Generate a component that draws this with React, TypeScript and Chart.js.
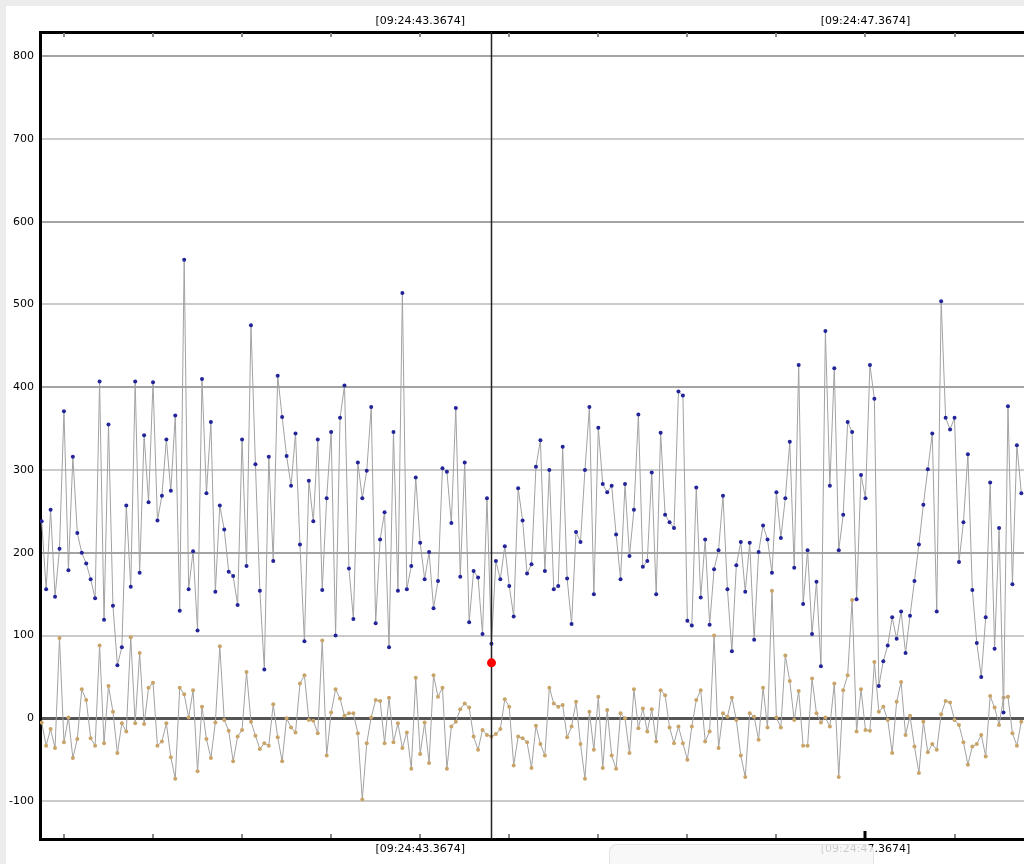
import React, { useEffect, useRef } from "react";
import { Chart, registerables } from "chart.js";

Chart.register(...registerables);

// Blue series (sample index 0..220)
const blueValues = [
  238, 156, 252, 147, 205, 371, 179, 316, 224, 200,
  187, 168, 145, 407, 119, 355, 136, 64, 86, 257,
  159, 407, 176, 342, 261, 406, 239, 269, 337, 275,
  366, 130, 554, 156, 202, 106, 410, 272, 358, 153,
  257, 228, 177, 172, 137, 337, 184, 475, 307, 154,
  59, 316, 190, 414, 364, 317, 281, 344, 210, 93,
  287, 238, 337, 155, 266, 346, 100, 363, 402, 181,
  120, 309, 266, 299, 376, 115, 216, 249, 86, 346,
  154, 514, 156, 184, 291, 212, 168, 201, 133, 166,
  302, 298, 236, 375, 171, 309, 116, 178, 170, 102,
  266, 90, 190, 168, 208, 160, 123, 278, 239, 175,
  186, 304, 336, 178, 300, 156, 160, 328, 169, 114,
  225, 213, 300, 376, 150, 351, 283, 273, 281, 222,
  168, 283, 196, 252, 367, 183, 190, 297, 150, 345,
  246, 237, 230, 395, 390, 118, 112, 279, 146, 216,
  113, 180, 203, 269, 156, 81, 185, 213, 153, 212,
  95, 201, 233, 216, 176, 273, 218, 266, 334, 182,
  427, 138, 203, 102, 165, 63, 468, 281, 423, 203,
  246, 358, 346, 144, 294, 266, 427, 386, 39, 69,
  88, 122, 96, 129, 79, 124, 166, 210, 258, 301,
  344, 129, 504, 363, 349, 363, 189, 237, 319, 155,
  91, 50, 122, 285, 84, 230, 7, 377, 162, 330,
  272,
];

// Tan series (sample index 0..220)
const tanValues = [
  -5, -33, -13, -36, 97, -29, 1, -48, -25, 35,
  22, -24, -33, 88, -30, 39, 8, -42, -6, -16,
  98, -6, 79, -7, 37, 43, -33, -28, -6, -47,
  -73, 37, 29, 1, 34, -64, 14, -25, -48, -5,
  87, -2, -15, -52, -22, -14, 56, -4, -21, -37,
  -30, -33, 17, -23, -52, 0, -11, -17, 42, 52,
  -2, -3, -18, 94, -45, 7, 35, 24, 3, 6,
  6, -18, -98, -30, 1, 22, 21, -30, 25, -29,
  -6, -36, -17, -61, 49, -43, -5, -54, 52, 26,
  37, -61, -10, -4, 11, 18, 13, -22, -38, -14,
  -20, -22, -19, -13, 23, 14, -57, -22, -24, -29,
  -60, -9, -31, -45, 37, 18, 14, 16, -23, -10,
  20, -31, -73, 8, -38, 26, -60, 10, -45, -61,
  6, 0, -42, 35, -12, 12, -16, 11, -28, 34,
  28, -11, -30, -10, -30, -50, -10, 22, 34, -28,
  -16, 100, -36, 6, 2, 25, -2, -45, -71, 6,
  2, -26, 37, -11, 154, 1, -11, 76, 45, -2,
  33, -33, -33, 48, 6, -5, 1, -10, 42, -71,
  34, 52, 143, -16, 35, -14, -15, 68, 8, 14,
  -2, -42, 20, 44, -20, 3, -34, -66, -4, -41,
  -31, -38, 5, 21, 19, -2, -8, -29, -56, -34,
  -31, -20, -46, 27, 13, -8, 25, 26, -18, -33,
  -4,
];

const yTickValues = [800, 700, 600, 500, 400, 300, 200, 100, 0, -100];
const xTickPositions = [5, 25, 45, 65, 85, 105, 125, 145, 165, 185, 205];
const xLabelPositions = [85, 185];
const xLabelTexts = ["[09:24:43.3674]", "[09:24:47.3674]"];
const majorTickPosition = 185;
const cursorIndex = 101;
const cursorValue = 67;

const X_MIN = -0.38;
const X_MAX = 220.6;
const Y_MIN = -145.8;
const Y_MAX = 829.2;

const FONT = { family: "'DejaVu Sans', Verdana, sans-serif", size: 11 };

function xLabel(v: number): string {
  const k = xLabelPositions.indexOf(Math.round(v));
  return k >= 0 ? xLabelTexts[k] : "";
}

const overlayPlugin = {
  id: "overlayMarks",
  beforeDatasetsDraw(chart: any) {
    const { ctx, chartArea, scales } = chart;
    const xs = scales.x;
    ctx.save();
    ctx.strokeStyle = "#8a8a8a";
    ctx.lineWidth = 2;
    for (const t of xTickPositions) {
      const px = Math.round(xs.getPixelForValue(t));
      ctx.beginPath();
      ctx.moveTo(px, chartArea.top + 1);
      ctx.lineTo(px, chartArea.top + 5);
      ctx.stroke();
      ctx.beginPath();
      ctx.moveTo(px, chartArea.bottom - 5);
      ctx.lineTo(px, chartArea.bottom - 1);
      ctx.stroke();
    }
    const mp = Math.round(xs.getPixelForValue(majorTickPosition));
    ctx.strokeStyle = "#000";
    ctx.lineWidth = 3;
    ctx.beginPath();
    ctx.moveTo(mp, chartArea.bottom - 8);
    ctx.lineTo(mp, chartArea.bottom);
    ctx.stroke();
    ctx.restore();
  },
  afterDatasetsDraw(chart: any) {
    const { ctx, chartArea, scales } = chart;
    const xs = scales.x;
    const cx = Math.round(xs.getPixelForValue(cursorIndex)) + 0.5;
    ctx.save();
    ctx.strokeStyle = "#222";
    ctx.lineWidth = 1.5;
    ctx.beginPath();
    ctx.moveTo(cx, chartArea.top);
    ctx.lineTo(cx, chartArea.bottom);
    ctx.stroke();
    const cy = scales.y.getPixelForValue(cursorValue);
    ctx.fillStyle = "#ff0000";
    ctx.beginPath();
    ctx.arc(cx, cy, 4.5, 0, Math.PI * 2);
    ctx.fill();
    ctx.restore();
  },
};

export default function App() {
  const canvasRef = useRef<HTMLCanvasElement | null>(null);

  useEffect(() => {
    if (!canvasRef.current) return;
    const blueData = blueValues.map((v, i) => ({ x: i, y: v }));
    const tanData = tanValues.map((v, i) => ({ x: i, y: v }));

    const xAxisCommon = (pos: "top" | "bottom", h: number) => ({
      type: "linear" as const,
      position: pos,
      min: X_MIN,
      max: X_MAX,
      afterBuildTicks: (axis: any) => {
        axis.ticks = xTickPositions.map((v) => ({ value: v }));
      },
      afterFit: (axis: any) => {
        axis.height = h;
      },
      grid: { display: false, drawTicks: false },
      border: { display: true, color: "#000", width: 3 },
      ticks: {
        autoSkip: false,
        maxRotation: 0,
        minRotation: 0,
        padding: 4,
        color: "#000",
        font: FONT,
        callback: (v: any) => xLabel(Number(v)),
      },
    });

    const chart = new Chart(canvasRef.current, {
      type: "line",
      data: {
        datasets: [
          {
            label: "blue",
            data: blueData,
            borderColor: "#a2a2a2",
            borderWidth: 1,
            pointRadius: 2,
            pointBorderWidth: 0,
            pointBackgroundColor: "#23239a",
            tension: 0,
          },
          {
            label: "tan",
            data: tanData,
            borderColor: "#a2a2a2",
            borderWidth: 1,
            pointRadius: 2,
            pointBorderWidth: 0,
            pointBackgroundColor: "#c9a468",
            tension: 0,
          },
        ],
      },
      options: {
        animation: false,
        responsive: false,
        devicePixelRatio: 1,
        layout: { padding: 0, autoPadding: false },
        plugins: {
          legend: { display: false },
          tooltip: { enabled: false },
          title: { display: false },
        },
        scales: {
          x: xAxisCommon("bottom", 25),
          xTop: xAxisCommon("top", 32),
          y: {
            type: "linear",
            position: "left",
            min: Y_MIN,
            max: Y_MAX,
            afterBuildTicks: (axis: any) => {
              axis.ticks = yTickValues.map((v) => ({ value: v }));
            },
            afterFit: (axis: any) => {
              axis.width = 40;
            },
            grid: {
              drawTicks: false,
              color: (c: any) => {
                const v = c.tick ? c.tick.value : 1;
                if (v === 0) return "#555555";
                return Math.abs(v) % 200 === 0 ? "#a3a3a3" : "#cbcbcb";
              },
              lineWidth: (c: any) => {
                const v = c.tick ? c.tick.value : 1;
                return v === 0 ? 3 : 2;
              },
            },
            border: { display: true, color: "#000", width: 3 },
            ticks: {
              padding: 6,
              color: "#000",
              font: FONT,
              callback: (v: any) => String(v),
            },
          },
        },
      } as any,
      plugins: [overlayPlugin],
    });
    return () => chart.destroy();
  }, []);

  return (
    <div
      style={{
        position: "fixed",
        left: 0,
        top: 0,
        width: 1024,
        height: 864,
        background: "#ececec",
        overflow: "hidden",
      }}
    >
      <div
        style={{
          position: "absolute",
          left: 6,
          top: 6,
          width: 1018,
          height: 858,
          background: "#ffffff",
        }}
      />
      <canvas
        ref={canvasRef}
        width={1024}
        height={864}
        style={{ position: "absolute", left: 0, top: 0, width: 1024, height: 864 }}
      />
      <div
        style={{
          position: "absolute",
          left: 609,
          top: 844,
          width: 263,
          height: 30,
          background: "rgba(246,246,246,0.82)",
          border: "1px solid rgba(225,225,225,0.9)",
          borderRadius: 8,
        }}
      />
    </div>
  );
}
